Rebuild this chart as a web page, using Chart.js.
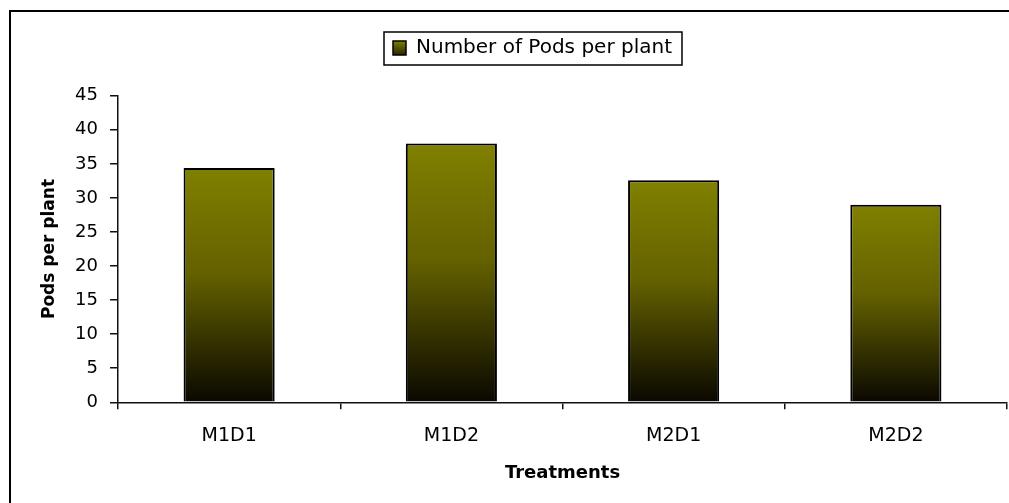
<!DOCTYPE html>
<html>
<head>
<meta charset="utf-8">
<title>Number of Pods per plant</title>
<script src="https://cdn.jsdelivr.net/npm/chart.js@4/dist/chart.umd.min.js"></script>
<style>
	html, body { margin: 0; padding: 0; background: #fff; overflow: hidden; }
	#wrap { position: relative; width: 1009px; height: 503px; }
	#frame { position: absolute; left: 9px; top: 10px; width: 1100px; height: 600px; border-left: 2px solid #000; border-top: 2px solid #000; }
	#graphPods { position: absolute; left: 0; top: 0; }
</style>
</head>
<body>
<div id="wrap">
	<div id="frame"></div>
	<canvas id="graphPods" width="1009" height="503"></canvas>
</div>
<script>
var categories = ['M1D1', 'M1D2', 'M2D1', 'M2D2']
var pods = [34.4, 38.0, 32.6, 29.0]
var seriesName = 'Number of Pods per plant'
var yTicks = [0, 5, 10, 15, 20, 25, 30, 35, 40, 45]

var olive = 'rgb(128, 128, 0)'
var dark = 'rgb(10, 8, 0)'

Chart.defaults.font.family = 'DejaVu Sans'
Chart.defaults.color = '#000'

// degrade vertical par barre
function barFill(context) {
	var chart = context.chart
	if (context.type !== 'data' || !chart.chartArea) return olive
	var y = chart.scales.y
	var g = chart.ctx.createLinearGradient(0, y.getPixelForValue(context.raw), 0, y.getPixelForValue(0))
	g.addColorStop(0, olive)
	g.addColorStop(0.45, 'rgb(100, 97, 0)')
	g.addColorStop(1, dark)
	return g
}

// legende : hauteur fixe, decalage, cadre
var legendBox = {
	id: 'legendBox',
	beforeInit: function (chart) {
		var fit = chart.legend.fit
		chart.legend.fit = function () {
			fit.call(this)
			this.height = 95.7
		}
	},
	afterLayout: function (chart) {
		chart.legend.left += 23
		chart.legend.right += 23
	},
	afterDraw: function (chart) {
		var hb = chart.legend.legendHitBoxes[0]
		if (!hb) return
		var ctx = chart.ctx
		ctx.save()
		ctx.strokeStyle = '#000'
		ctx.lineWidth = 1.5
		ctx.strokeRect(hb.left - 9, hb.top - 6, hb.width + 19, hb.height + 13)
		ctx.restore()
	}
}

var ctx = document.getElementById('graphPods').getContext('2d')
var myChart = new Chart(ctx, {
	type: 'bar',
	data: {
		labels: categories,
		datasets: [{
			label: seriesName,
			data: pods,
			backgroundColor: barFill,
			borderColor: '#000',
			borderWidth: 2,
			barPercentage: 0.41,
			categoryPercentage: 1
		}]
	},
	options: {
		responsive: false,
		animation: false,
		layout: {
			padding: { left: 12, right: 2, top: 0, bottom: 0 }
		},
		plugins: {
			tooltip: { enabled: false },
			legend: {
				position: 'top',
				labels: {
					font: { size: 20 },
					color: '#000',
					boxWidth: 13,
					boxHeight: 14,
					padding: 38,
					generateLabels: function (chart) {
						var t = (chart.legend && chart.legend.top) || 0
						var g = chart.ctx.createLinearGradient(0, t + 41, 0, t + 55)
						g.addColorStop(0, olive)
						g.addColorStop(1, 'rgb(40, 38, 0)')
						return [{
							text: seriesName,
							fillStyle: g,
							strokeStyle: '#000',
							lineWidth: 1.5,
							datasetIndex: 0,
							hidden: false
						}]
					}
				}
			}
		},
		scales: {
			x: {
				grid: { offset: true, drawOnChartArea: false, tickLength: 7, color: '#111', lineWidth: 1.5 },
				border: { color: '#111', width: 1.5 },
				ticks: { font: { size: 19 }, color: '#000', padding: 15 },
				title: {
					display: true,
					text: 'Treatments',
					font: { size: 18, weight: 'bold' },
					color: '#000',
					padding: { top: 0, bottom: 19 }
				},
				afterFit: function (scale) { scale.height = 100.7 }
			},
			y: {
				min: 0,
				max: 45,
				afterBuildTicks: function (scale) {
					scale.ticks = yTicks.map(function (v) { return { value: v } })
				},
				grid: { drawOnChartArea: false, tickLength: 8, color: '#111', lineWidth: 1.5 },
				border: { color: '#111', width: 1.5 },
				ticks: { font: { size: 18 }, color: '#000', padding: 12 },
				title: {
					display: true,
					text: 'Pods per plant',
					font: { size: 17, weight: 'bold' },
					color: '#000',
					padding: { top: 27, bottom: 0 }
				},
				afterFit: function (scale) { scale.width = 106 }
			}
		}
	},
	plugins: [legendBox]
})
</script>
</body>
</html>
